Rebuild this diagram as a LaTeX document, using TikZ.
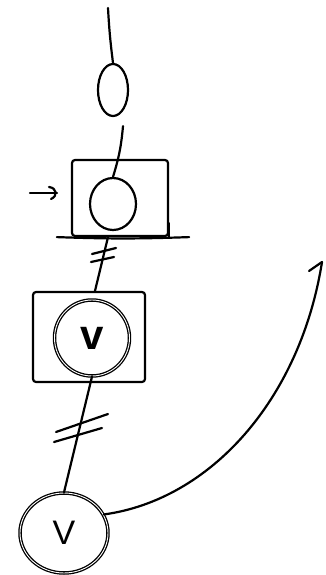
\documentclass[tikz,border=0pt]{standalone}
\usepackage{fontspec}
\setmainfont{Liberation Sans}
\usetikzlibrary{shapes.geometric,calc}
\begin{document}
\begin{tikzpicture}[x=1pt,y=-1pt, line cap=round, line join=round,
  ink/.style={line width=2.2pt, black},
  oval/.style={ellipse, draw, ink, inner sep=0pt},
  dbl/.style={ellipse, draw, line width=1.3pt, double=white, double distance=0.9pt, inner sep=0pt},
  boxnode/.style={rectangle, draw, ink, inner sep=0pt, rounded corners=3pt},
  hash/.style={ink}]
\useasboundingbox[fill=white] (0,0) rectangle (325,575);

% nodes
\node[oval, minimum width=30pt, minimum height=52pt] (e1) at (113,90) {};
\node[boxnode, minimum width=96pt, minimum height=76pt] (box1) at (120,198) {};
\node[oval, minimum width=46pt, minimum height=52pt] (c1) at (113,204) {};
\node[boxnode, minimum width=112pt, minimum height=90pt] (box2) at (89,337) {};
\node[dbl, minimum width=75pt, minimum height=76pt, font=\fontsize{42}{42}\selectfont\bfseries] (c2) at (92,338) {v};
\node[dbl, minimum width=88pt, minimum height=80pt, font=\fontsize{34}{34}\selectfont] (c3) at (64,533) {V};

% free ends
\coordinate (top) at (108,8);
\coordinate (tail) at (322,262);

% box1 extras: extended bottom line and right side
\draw[ink] ([xshift=-14pt]box1.south west) to[bend right=2] ([xshift=20pt]box1.south east);
\draw[ink] (box1.south east) -- ([yshift=14pt]box1.south east);

% small arrow at left of box1
\coordinate (arrL) at (30,193);
\coordinate (arrR) at (57,193);
\draw[ink] (arrL) -- (arrR);
\draw[ink] (49,187) .. controls (57,188) and (58,196) .. (51,199);

% connectors
\draw[ink] (top) to[bend right=2] (e1.north);
\draw[ink] ([shift={(10,9)}]e1.south) to[bend left=6] (c1.north);
\draw[ink] ([xshift=-12pt]box1.south) -- ([xshift=6pt]box2.north);
\draw[ink] (c2.south) -- (c3.north);
\draw[ink] ($(c3.center)!1!(c3.25)$) .. controls (210,500) and (300,400) .. (tail);
\draw[ink] (tail) -- (309,271);

% hash marks
\draw[hash] (92,254) -- (116,248);
\draw[hash] (91,262) -- (114,257);
\draw[hash] (56,432) -- (108,414);
\draw[hash] (54,442) -- (102,428);
\end{tikzpicture}
\end{document}
